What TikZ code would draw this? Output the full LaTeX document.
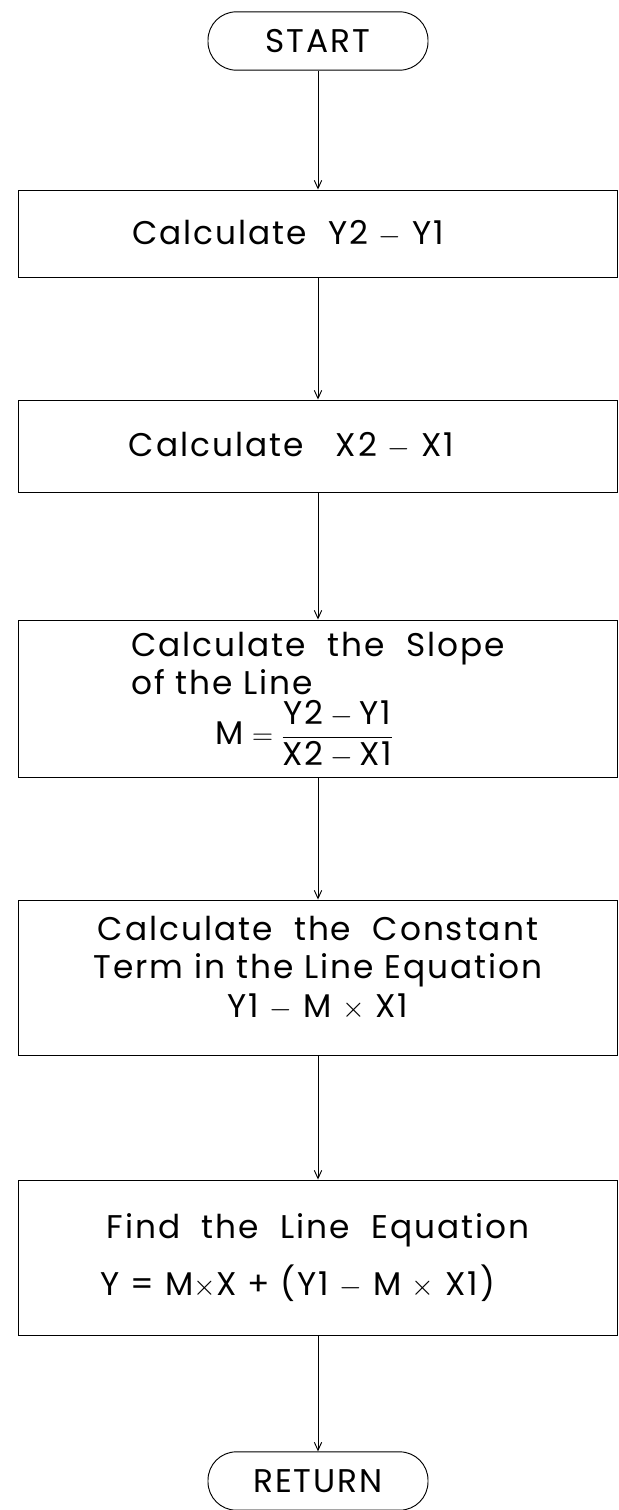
\documentclass[tikz,border=0pt]{standalone}
\usepackage{amsmath}
\usepackage{fontspec}
\setmainfont{Poppins}
\usetikzlibrary{arrows.meta,positioning}
\begin{document}
\begin{tikzpicture}[x=0.03cm,y=-0.03cm,>={Straight Barb[length=2.4mm,width=2.2mm]},
  st/.style={draw,line width=0.8pt,minimum width=17.97cm,align=center,inner sep=0pt,
    font=\fontsize{28}{33}\selectfont\addfontfeature{LetterSpace=6}},
  term/.style={st,rounded corners=0.85cm,minimum width=6.6cm,minimum height=1.75cm},
  flow/.style={->,line width=0.8pt}]
\useasboundingbox (0,0) rectangle (619,1510);
\node[term] (start) at (318,41) {START};
\node[st,minimum height=2.61cm] (dy) at (318,233.5) {\hspace*{-1.8cm}Calculate\ \ Y2 $-$ Y1};
\node[st,minimum height=2.76cm] (dx) at (318,446) {\hspace*{-1.6cm}Calculate\ \ \ X2 $-$ X1};
\node[st,minimum height=4.71cm] (slope) at (318,698.5) {\begin{tabular}{@{}l@{}}Calculate\ \ the\ \ Slope\\of the\ Line\end{tabular}\\[-6pt]
  \hspace*{-0.8cm}$\text{M}=\dfrac{\text{Y2}-\text{Y1}}{\text{X2}-\text{X1}}$};
\node[st,minimum height=4.65cm] (const) at (318,977.5) {Calculate\ \ the\ \ Constant\\Term\ in the\ Line\ Equation\\Y1 $-$ M $\times$ X1\rule[-0.65cm]{0pt}{1pt}};
\node[st,minimum height=4.65cm] (eqn) at (318,1257.5) {Find\ \ the\ \ Line\ \ Equation\\[14pt]\hspace*{-1.2cm}Y = M$\times$X + (Y1 $-$ M $\times$ X1)};
\node[term] (ret) at (318,1481) {RETURN};
\draw[flow] (start) -- (dy);
\draw[flow] (dy) -- (dx);
\draw[flow] (dx) -- (slope);
\draw[flow] (slope) -- (const);
\draw[flow] (const) -- (eqn);
\draw[flow] (eqn) -- (ret);
\end{tikzpicture}
\end{document}
